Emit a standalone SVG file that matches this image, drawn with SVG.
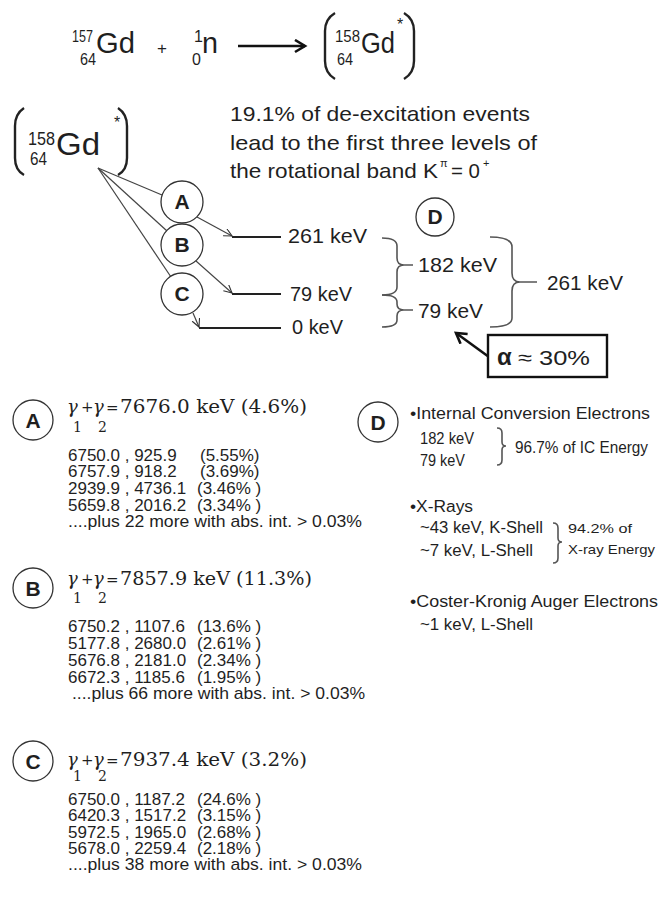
<svg xmlns="http://www.w3.org/2000/svg" width="660" height="909" viewBox="0 0 660 909">
<style>
text{font-family:"Liberation Sans",Arial,sans-serif;fill:#1f1f1f}
.big{font-size:29px}
.sup{font-size:16px}
.lbl{font-size:20px}
.para{font-size:21px}
.row{font-size:17px}
.d{font-size:16px}
.sm{font-size:13px}
.ser{font-family:"DejaVu Serif","Liberation Serif",serif;font-size:19px}
.g{font-family:"DejaVu Serif","Liberation Serif",serif;font-size:18px;font-style:italic}
.op{font-family:"DejaVu Serif","Liberation Serif",serif;font-size:15px}
.sub{font-family:"DejaVu Serif","Liberation Serif",serif;font-size:14px}
.cl{font-weight:bold;font-size:21px;text-anchor:middle}
.circ{fill:#fff;stroke:#333;stroke-width:1.3}
.ln{stroke:#444;stroke-width:1.2;fill:none}
.lev{stroke:#222;stroke-width:2;fill:none}
.br{stroke:#555;stroke-width:1.6;fill:none}
.par{stroke:#222;stroke-width:2.4;fill:none}
</style>
<defs>
<marker id="thin" markerUnits="userSpaceOnUse" markerWidth="10" markerHeight="10" refX="8" refY="4" orient="auto">
<path d="M0,0 L8,4 L0,8" fill="none" stroke="#333" stroke-width="1.1"/>
</marker>
<marker id="thick" markerUnits="userSpaceOnUse" markerWidth="16" markerHeight="16" refX="11" refY="7" orient="auto">
<path d="M1,1 L11,7 L1,13" fill="none" stroke="#111" stroke-width="2.6"/>
</marker>
</defs>

<g id="reaction">
<text class="sup" x="72" y="42" textLength="21" lengthAdjust="spacingAndGlyphs">157</text>
<text class="sup" x="80" y="65" textLength="16" lengthAdjust="spacingAndGlyphs">64</text>
<text class="big" x="96" y="53" textLength="39" lengthAdjust="spacingAndGlyphs">Gd</text>
<text x="157" y="54" font-size="17">+</text>
<text class="sup" x="194" y="42">1</text>
<text class="sup" x="192" y="65">0</text>
<text class="big" x="202" y="53" textLength="16" lengthAdjust="spacingAndGlyphs">n</text>
<path class="par" d="M335,13 Q325,19 325,31 L325,61 Q325,73 335,79"/>
<text class="sup" x="335" y="42" textLength="25" lengthAdjust="spacingAndGlyphs">158</text>
<text class="sup" x="337" y="65" textLength="16" lengthAdjust="spacingAndGlyphs">64</text>
<text class="big" x="361" y="53" textLength="34" lengthAdjust="spacingAndGlyphs">Gd</text>
<text x="397" y="30" font-size="16">*</text>
<path class="par" d="M404,13 Q414,19 414,31 L414,61 Q414,73 404,79"/>
</g>

<g id="gd-excited">
<path class="par" d="M24,108 Q15,114 15,126 L15,158 Q15,170 24,175"/>
<text x="28" y="145" font-size="18" textLength="27" lengthAdjust="spacingAndGlyphs">158</text>
<text x="30" y="165" font-size="18" textLength="17" lengthAdjust="spacingAndGlyphs">64</text>
<text x="56" y="155" font-size="31" textLength="44" lengthAdjust="spacingAndGlyphs">Gd</text>
<text x="114" y="128" font-size="16">*</text>
<path class="par" d="M118,108 Q127,114 127,126 L127,158 Q127,170 118,175"/>
</g>

<g id="note">
<text class="para" x="230" y="121" textLength="300" lengthAdjust="spacingAndGlyphs">19.1% of de-excitation events</text>
<text class="para" x="230" y="150" textLength="307" lengthAdjust="spacingAndGlyphs">lead to the first  three levels of</text>
<text class="para" x="230" y="178" textLength="208" lengthAdjust="spacingAndGlyphs">the rotational band K</text>
<text x="440" y="167" font-size="11">π</text>
<text class="para" x="451" y="178" textLength="29" lengthAdjust="spacingAndGlyphs">= 0</text>
<text x="483" y="167" font-size="11">+</text>
</g>

<g id="connectors">
<line class="ln" x1="98" y1="168" x2="162" y2="195"/>
<line class="ln" x1="98" y1="168" x2="167" y2="231"/>
<line class="ln" x1="98" y1="168" x2="171" y2="277"/>
<line class="ln" x1="197" y1="217" x2="232" y2="236" marker-end="url(#thin)"/>
<line class="ln" x1="196" y1="261" x2="232" y2="293" marker-end="url(#thin)"/>
<line class="ln" x1="193" y1="313" x2="199" y2="327" marker-end="url(#thin)"/>
<line x1="238" y1="46" x2="305" y2="46" stroke="#111" stroke-width="2.6" marker-end="url(#thick)"/>
<line x1="489" y1="357" x2="456" y2="333" stroke="#111" stroke-width="2.6" marker-end="url(#thick)"/>
</g>

<g id="node-A"><circle class="circ" cx="182" cy="202" r="21"/><text class="cl" x="182" y="209">A</text></g>
<g id="node-B"><circle class="circ" cx="182" cy="245" r="21"/><text class="cl" x="182" y="252">B</text></g>
<g id="node-C"><circle class="circ" cx="182" cy="294" r="21"/><text class="cl" x="182" y="301">C</text></g>

<g id="levels">
<line class="lev" x1="232" y1="237" x2="281" y2="237"/>
<line class="lev" x1="232" y1="294" x2="281" y2="294"/>
<line class="lev" x1="199" y1="328" x2="281" y2="328"/>
<text class="lbl" x="288" y="243" textLength="79" lengthAdjust="spacingAndGlyphs">261 keV</text>
<text class="lbl" x="290" y="301" textLength="62" lengthAdjust="spacingAndGlyphs">79 keV</text>
<text class="lbl" x="292" y="334" textLength="51" lengthAdjust="spacingAndGlyphs">0 keV</text>
</g>

<g id="braces">
<path class="br" d="M382,238 Q397,238 397,246 L397,258 Q397,265 404,265 L413,265 M404,265 Q397,265 397,272 L397,287 Q397,295 382,295"/>
<path class="br" d="M382,295 Q397,295 397,302 L397,304 Q397,310 404,310 L413,310 M404,310 Q397,310 397,316 L397,320 Q397,327 382,327"/>
<path class="br" d="M490,237 Q512,237 512,247 L512,273 Q512,282 520,282 L537,282 M520,282 Q512,282 512,291 L512,318 Q512,327 490,327"/>
<text class="lbl" x="418" y="272" textLength="79" lengthAdjust="spacingAndGlyphs">182 keV</text>
<text class="lbl" x="418" y="318" textLength="65" lengthAdjust="spacingAndGlyphs">79 keV</text>
<text class="lbl" x="547" y="290" textLength="76" lengthAdjust="spacingAndGlyphs">261 keV</text>
</g>

<g id="node-D-top"><circle class="circ" cx="435" cy="217" r="19"/><text class="cl" x="435" y="224">D</text></g>

<g id="alpha">
<rect x="488" y="335" width="119" height="42" fill="#fff" stroke="#111" stroke-width="2.4"/>
<text x="497" y="365" font-family="Liberation Serif,serif" font-weight="bold" font-size="24">α</text>
<text x="518" y="365" font-size="21" textLength="72" lengthAdjust="spacingAndGlyphs">≈ 30%</text>
</g>

<g id="sec-A">
<circle class="circ" cx="33" cy="420" r="20"/><text class="cl" x="33" y="428" font-size="22">A</text>
<text class="g" x="67" y="413">γ</text><text class="sub" x="73" y="432">1</text>
<text class="op" x="81" y="412">+</text>
<text class="g" x="93" y="413">γ</text><text class="sub" x="98" y="432">2</text>
<text class="op" x="106" y="413">=</text>
<text class="ser" x="120" y="413" textLength="187" lengthAdjust="spacingAndGlyphs">7676.0 keV (4.6%)</text>
<text class="row" x="68" y="461">6750.0 , 925.9</text><text class="row" x="200" y="461">(5.55%)</text>
<text class="row" x="68" y="477">6757.9 , 918.2</text><text class="row" x="200" y="477">(3.69%)</text>
<text class="row" x="68" y="494">2939.9 , 4736.1</text><text class="row" x="197" y="494">(3.46% )</text>
<text class="row" x="68" y="511">5659.8 , 2016.2</text><text class="row" x="197" y="511">(3.34% )</text>
<text class="row" x="68" y="527" textLength="294" lengthAdjust="spacingAndGlyphs">....plus 22 more with abs. int. &gt; 0.03%</text>
</g>

<g id="sec-B">
<circle class="circ" cx="33" cy="588" r="20"/><text class="cl" x="33" y="596" font-size="22">B</text>
<text class="g" x="67" y="585">γ</text><text class="sub" x="73" y="603">1</text>
<text class="op" x="81" y="584">+</text>
<text class="g" x="93" y="585">γ</text><text class="sub" x="98" y="603">2</text>
<text class="op" x="106" y="585">=</text>
<text class="ser" x="120" y="585" textLength="192" lengthAdjust="spacingAndGlyphs">7857.9 keV (11.3%)</text>
<text class="row" x="68" y="632">6750.2 , 1107.6</text><text class="row" x="197" y="632">(13.6% )</text>
<text class="row" x="68" y="649">5177.8 , 2680.0</text><text class="row" x="197" y="649">(2.61% )</text>
<text class="row" x="68" y="666">5676.8 , 2181.0</text><text class="row" x="197" y="666">(2.34% )</text>
<text class="row" x="68" y="683">6672.3 , 1185.6</text><text class="row" x="197" y="683">(1.95% )</text>
<text class="row" x="72" y="699" textLength="293" lengthAdjust="spacingAndGlyphs">....plus 66 more with abs. int. &gt; 0.03%</text>
</g>

<g id="sec-C">
<circle class="circ" cx="33" cy="761" r="20"/><text class="cl" x="33" y="769" font-size="22">C</text>
<text class="g" x="67" y="766">γ</text><text class="sub" x="73" y="781">1</text>
<text class="op" x="81" y="765">+</text>
<text class="g" x="93" y="766">γ</text><text class="sub" x="98" y="781">2</text>
<text class="op" x="106" y="766">=</text>
<text class="ser" x="120" y="766" textLength="187" lengthAdjust="spacingAndGlyphs">7937.4 keV (3.2%)</text>
<text class="row" x="68" y="805">6750.0 , 1187.2</text><text class="row" x="197" y="805">(24.6% )</text>
<text class="row" x="68" y="821">6420.3 , 1517.2</text><text class="row" x="197" y="821">(3.15% )</text>
<text class="row" x="68" y="838">5972.5 , 1965.0</text><text class="row" x="197" y="838">(2.68% )</text>
<text class="row" x="68" y="854">5678.0 , 2259.4</text><text class="row" x="197" y="854">(2.18% )</text>
<text class="row" x="68" y="870" textLength="294" lengthAdjust="spacingAndGlyphs">....plus 38 more with abs. int. &gt; 0.03%</text>
</g>

<g id="sec-D">
<circle class="circ" cx="378" cy="422" r="20"/><text class="cl" x="378" y="430" font-size="22">D</text>
<text class="d" x="410" y="419" textLength="240" lengthAdjust="spacingAndGlyphs">•Internal Conversion Electrons</text>
<text class="d" x="420" y="444" textLength="54" lengthAdjust="spacingAndGlyphs">182 keV</text>
<text class="d" x="420" y="466" textLength="45" lengthAdjust="spacingAndGlyphs">79 keV</text>
<path class="br" stroke-width="1.1" d="M497,428 Q502,428 502,433 L502,442 Q502,446 506,446 Q502,446 502,450 L502,460 Q502,465 497,465"/>
<text class="d" x="515" y="453" textLength="133" lengthAdjust="spacingAndGlyphs">96.7% of IC Energy</text>
<text class="d" x="410" y="512" textLength="63" lengthAdjust="spacingAndGlyphs">•X-Rays</text>
<text class="d" x="420" y="533" textLength="123" lengthAdjust="spacingAndGlyphs">~43 keV, K-Shell</text>
<text class="d" x="420" y="556" textLength="113" lengthAdjust="spacingAndGlyphs">~7 keV, L-Shell</text>
<path class="br" stroke-width="1.1" d="M553,523 Q558,523 558,528 L558,538 Q558,542 562,542 Q558,542 558,546 L558,558 Q558,563 553,563"/>
<text class="sm" x="568" y="533" textLength="64" lengthAdjust="spacingAndGlyphs">94.2% of</text>
<text class="sm" x="568" y="554" textLength="87" lengthAdjust="spacingAndGlyphs">X-ray Energy</text>
<text class="d" x="410" y="607" textLength="248" lengthAdjust="spacingAndGlyphs">•Coster-Kronig Auger Electrons</text>
<text class="d" x="420" y="630" textLength="113" lengthAdjust="spacingAndGlyphs">~1 keV, L-Shell</text>
</g>
</svg>
